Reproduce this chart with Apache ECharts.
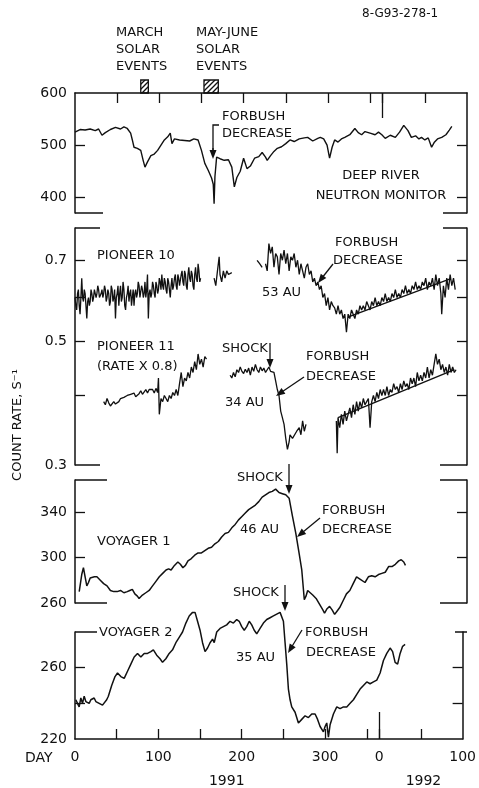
<!DOCTYPE html>
<html><head><meta charset="utf-8">
<script src="https://cdn.jsdelivr.net/npm/echarts@6/dist/echarts.min.js"></script>
<style>html,body{margin:0;padding:0;background:#fff}#c{width:479px;height:788px}</style>
</head><body><div id="c"></div>
<script>
// ---------- DATA (day of 1991; 1992 day N = 365 + N) ----------
const deepRiver = [[0,525],[6,530],[12,529],[18,531],[24,528],[28,531],[32,519],[36,524],[42,530],[48,534],[54,531],[58,535],[62,532],[66,523],[68,510],[70,496],[74,494],[78,490],[81,470],[83,458],[86,468],[90,480],[94,483],[98,490],[102,500],[106,510],[110,516],[113,523],[115,503],[118,512],[124,510],[130,509],[136,508],[141,512],[146,510],[150,490],[154,465],[158,452],[162,437],[164,425],[165,388],[166,440],[168,477],[172,474],[177,471],[182,472],[186,458],[189,420],[192,438],[196,450],[200,475],[204,455],[208,460],[213,475],[218,478],[222,486],[226,477],[228,471],[232,480],[236,488],[240,494],[245,497],[250,503],[255,510],[260,507],[266,512],[272,514],[276,515],[282,508],[288,513],[291,515],[295,512],[299,500],[302,475],[305,496],[308,510],[312,506],[316,512],[320,515],[326,520],[332,532],[336,524],[340,520],[344,526],[350,523],[356,520],[360,525],[364,520],[368,513],[374,519],[380,515],[385,525],[390,538],[395,528],[399,515],[404,518],[408,512],[411,515],[415,510],[419,514],[423,496],[426,505],[430,512],[435,515],[440,520],[444,529],[447,536]];

const pioneer10 = [[0,0.60],[1,0.58],[2,0.57],[3,0.61],[4,0.62],[5,0.58],[6,0.56],[7,0.60],[8,0.65],[9,0.60],[10,0.59],[11,0.62],[12,0.61],[13,0.58],[14,0.55],[15,0.59],[16,0.60],[17,0.58],[18,0.59],[19,0.62],[20,0.61],[21,0.59],[22,0.60],[23,0.62],[24,0.62],[25,0.60],[26,0.61],[27,0.63],[28,0.62],[29,0.60],[30,0.60],[31,0.61],[32,0.62],[33,0.60],[34,0.61],[35,0.63],[36,0.62],[37,0.59],[38,0.60],[39,0.62],[40,0.61],[41,0.58],[42,0.59],[43,0.63],[44,0.62],[45,0.59],[46,0.60],[47,0.62],[48,0.55],[49,0.60],[50,0.61],[51,0.63],[52,0.58],[53,0.61],[54,0.63],[55,0.59],[56,0.60],[57,0.64],[58,0.62],[59,0.58],[60,0.57],[61,0.60],[62,0.61],[63,0.63],[64,0.59],[65,0.61],[66,0.62],[67,0.58],[68,0.60],[69,0.62],[70,0.58],[71,0.61],[72,0.62],[73,0.60],[74,0.61],[75,0.64],[76,0.63],[77,0.60],[78,0.60],[79,0.63],[80,0.62],[81,0.60],[82,0.61],[83,0.64],[84,0.60],[85,0.62],[86,0.66],[87,0.55],[88,0.61],[89,0.62],[90,0.60],[91,0.61],[92,0.64],[93,0.63],[94,0.61],[95,0.60],[96,0.64],[97,0.63],[98,0.61],[99,0.62],[100,0.65],[101,0.64],[102,0.62],[103,0.66],[104,0.63],[105,0.62],[106,0.65],[107,0.64],[108,0.62],[109,0.61],[110,0.65],[111,0.64],[112,0.62],[113,0.60],[114,0.63],[115,0.65],[116,0.62],[117,0.63],[118,0.65],[119,0.66],[120,0.63],[121,0.62],[122,0.66],[123,0.65],[124,0.63],[125,0.63],[126,0.66],[127,0.67],[128,0.64],[129,0.63],[130,0.67],[131,0.66],[132,0.63],[133,0.62],[134,0.66],[135,0.68],[136,0.65],[137,0.64],[138,0.67],[139,0.66],[140,0.63],[141,0.62],[142,0.66],[143,0.68],[144,0.65],[145,0.64],[146,0.69],[147,0.67],[148,0.64],[149,0.65],
 [157,null],
 [165,0.65],[167,0.63],[169,0.67],[171,0.71],[172,0.66],[174,0.64],[176,0.67],[178,0.65],[180,0.67],[182,0.66],[184,0.665],[186,0.665],
 [200,null],
 [216,0.70],[219,0.69],[222,0.68],[224,null],[226,0.69],[228,0.67],[230,0.75],[232,0.72],[234,0.74],[236,0.68],[238,0.72],[240,0.71],[242,0.66],[244,0.72],[246,0.70],[248,0.73],[250,0.69],[252,0.72],[254,0.67],[256,0.71],[258,0.70],[260,0.72],[262,0.68],[264,0.70],[266,0.66],[268,0.69],[270,0.67],[272,0.65],[274,0.68],[276,0.69],[278,0.66],[280,0.67],[282,0.64],[284,0.65],[286,0.63],[288,0.64],[290,0.62],[292,0.63],[294,0.60],[296,0.61],[298,0.58],[300,0.60],[302,0.57],[304,0.59],[306,0.58],[308,0.575],[310,0.56],[312,0.58],[314,0.56],[316,0.57],[318,0.55],[320,0.56],[322,0.52],[324,0.56],[326,0.55],[328,0.57],[330,0.56],[332,0.55],[334,0.57],[336,0.56],[338,0.58],[340,0.57],[342,0.58],[344,0.57],[346,0.59],[348,0.58],[350,0.57],[352,0.59],[354,0.58],[356,0.60],[358,0.58],[360,0.59],[362,0.58],[364,0.60],[366,0.59],[368,0.61],[370,0.59],[372,0.60],[374,0.59],[376,0.61],[378,0.60],[380,0.62],[382,0.60],[384,0.61],[386,0.60],[388,0.62],[390,0.61],[392,0.63],[394,0.61],[396,0.62],[398,0.61],[400,0.63],[402,0.62],[404,0.64],[406,0.62],[408,0.63],[410,0.62],[412,0.64],[414,0.63],[416,0.65],[418,0.62],[420,0.64],[422,0.63],[424,0.65],[426,0.62],[428,0.66],[430,0.63],[432,0.65],[434,0.61],[435,0.56],[437,0.63],[439,0.60],[441,0.65],[443,0.62],[445,0.66],[447,0.63],[449,0.65],[451,0.62]];

const pioneer10Fit = [[326,0.555],[445,0.648]];

const pioneer11 = [[34,0.39],[36,0.385],[38,0.395],[40,0.388],[42,0.383],[44,0.385],[46,0.39],[48,0.386],[50,0.385],[52,0.39],[54,0.395],[56,0.393],[58,0.397],[60,0.394],[62,0.40],[64,0.397],[66,0.402],[68,0.40],[70,0.404],[72,0.398],[74,0.40],[76,0.403],[78,0.408],[80,0.402],[82,0.405],[84,0.41],[86,0.404],[88,0.41],[90,0.408],[92,0.41],[94,0.404],[96,0.412],[98,0.405],[99,0.43],[100,0.37],[102,0.395],[104,0.39],[106,0.40],[108,0.395],[110,0.39],[112,0.40],[114,0.395],[116,0.405],[118,0.40],[120,0.41],[122,0.40],[124,0.42],[126,0.44],[128,0.415],[130,0.43],[132,0.425],[134,0.44],[136,0.43],[138,0.45],[140,0.44],[142,0.46],[144,0.445],[146,0.475],[148,0.455],[150,0.465],[152,0.45],[154,0.47],[156,0.465],
 [170,null],
 [184,0.435],[186,0.43],[188,0.44],[190,0.432],[192,0.445],[194,0.44],[196,0.45],[198,0.442],[200,0.438],[202,0.446],[204,0.44],[206,0.448],[208,0.435],[210,0.45],[212,0.442],[214,0.455],[216,0.445],[218,0.44],[220,0.45],[222,0.443],[224,0.448],[226,0.44],[228,0.445],[230,0.45],[232,0.442],[234,0.445],[236,0.44],[238,0.425],[240,0.41],[242,0.40],[244,0.375],[246,0.365],[248,0.355],[250,0.335],[252,0.32],[254,0.33],[255,0.34],[258,0.335],[260,0.335],[263,0.345],[266,0.35],[268,0.34],[270,0.36],[272,0.345],[274,0.355],
 [290,null],
 [310,0.36],[311,0.315],[312,0.365],[314,0.35],[316,0.37],[318,0.355],[320,0.375],[322,0.36],[324,0.37],[326,0.38],[328,0.365],[330,0.385],[332,0.37],[334,0.39],[336,0.375],[338,0.39],[340,0.38],[342,0.395],[344,0.385],[346,0.39],[348,0.395],[350,0.35],[352,0.39],[354,0.40],[356,0.39],[358,0.405],[360,0.395],[362,0.41],[364,0.40],[366,0.41],[368,0.40],[370,0.415],[372,0.40],[374,0.41],[376,0.405],[378,0.42],[380,0.41],[382,0.415],[384,0.405],[386,0.42],[388,0.41],[390,0.425],[392,0.415],[394,0.42],[396,0.41],[398,0.43],[400,0.42],[402,0.43],[404,0.415],[406,0.44],[408,0.425],[410,0.435],[412,0.425],[414,0.44],[416,0.43],[418,0.45],[420,0.43],[422,0.445],[424,0.435],[426,0.455],[428,0.475],[430,0.455],[432,0.465],[434,0.445],[436,0.455],[438,0.44],[440,0.45],[442,0.435],[444,0.455],[446,0.44],[448,0.45],[450,0.44],[452,0.445]];

const pioneer11Fit = [[312,0.365],[450,0.445]];

const voyager1 = [[5,270],[8,285],[10,291],[12,283],[14,275],[16,278],[18,282],[20,282],[23,283],[26,283],[30,280],[34,277],[38,275],[42,271],[46,270],[50,270],[54,271],[58,269],[62,270],[65,271],[68,272],[71,268],[74,266],[76,264],[80,267],[84,269],[88,271],[92,275],[96,279],[100,283],[104,286],[108,289],[111,290],[114,289],[118,293],[122,296],[125,294],[128,291],[131,293],[134,297],[138,299],[142,302],[146,304],[150,304],[154,306],[158,308],[162,309],[166,312],[170,314],[174,318],[178,321],[182,322],[186,326],[190,329],[194,333],[198,336],[202,339],[206,342],[210,344],[214,346],[218,349],[222,353],[226,355],[230,357],[234,358],[238,360],[240,359],[242,357],[246,356],[250,355],[254,352],[258,336],[262,321],[266,303],[269,289],[272,263],[274,266],[276,271],[279,269],[282,267],[286,264],[290,259],[294,254],[296,251],[299,255],[302,257],[305,254],[308,250],[311,253],[314,256],[318,262],[322,268],[326,271],[330,277],[334,283],[338,281],[344,278],[348,283],[352,284],[356,283],[360,285],[364,286],[368,287],[372,292],[376,292],[380,294],[384,297],[387,298],[390,296],[392,293]];

const voyager2 = [[1,242],[3,240],[5,238],[7,243],[9,240],[11,244],[13,241],[15,242],[17,240],[19,242],[21,241],[23,243],[25,241],[27,242],[29,240],[31,241],[33,239],[35,240],[38,242],[40,244],[44,250],[48,255],[51,257],[55,255],[59,254],[63,258],[67,262],[71,266],[75,268],[79,266],[83,268],[87,268],[91,269],[94,270],[98,267],[102,265],[105,263],[109,265],[113,268],[117,270],[121,274],[125,277],[129,280],[133,285],[137,289],[141,291],[144,291],[147,286],[150,281],[153,274],[156,269],[159,271],[162,274],[165,276],[167,274],[170,280],[174,282],[178,283],[182,284],[186,286],[190,285],[194,287],[197,286],[200,283],[203,281],[206,283],[209,286],[212,284],[215,281],[218,279],[222,282],[226,285],[230,287],[234,288],[238,289],[242,290],[246,291],[248,290],[250,286],[252,274],[254,262],[256,248],[258,242],[260,238],[264,235],[268,229],[272,231],[276,233],[280,232],[284,234],[288,234],[291,231],[294,227],[298,224],[300,227],[302,229],[304,221],[306,228],[310,234],[314,238],[318,237],[322,238],[326,238],[330,240],[334,242],[338,245],[342,248],[346,250],[350,252],[354,251],[358,252],[362,253],[366,257],[370,264],[374,268],[378,271],[381,269],[384,263],[387,262],[390,268],[393,272],[396,273]];

const solarEventDays = [[78,87],[153,170]];

const xTickDays = [50,100,150,200,250,300,350,365,415];
const yearStartDay = [365];
const xLabelDays = [0,100,200,300,365,465];
const yearLabelDays = [182,418];
const yearNames = {182:'1991',418:'1992'};

const yTicks = [[400,500],[0.4,0.5,0.6,0.7],[300,340],[240,260]];
const yLabels = [[400,500,600],[0.3,0.5,0.7],[260,300,340],[220,260]];
const yRanges = [[370,600],[0.3,0.8],[260,368],[220,280]];

// ---------- LAYOUT ----------
const INK = '#111';
const FONT = 'DejaVu Sans';
const LEFT = 75, RIGHT = 12, X_MAX = 465;
const GRIDS = [{top:93,height:120},{top:228,height:237},{top:480,height:123},{top:632,height:108}];

const chart = echarts.init(document.getElementById('c'), null, {renderer:'canvas'});

const grid = GRIDS.map(g => ({left:LEFT, right:RIGHT, top:g.top, height:g.height}));

const lineStyle = {color:INK, width:1.5};
const tickStyle = {color:INK, width:1.3};
const labelStyle = {color:INK, fontFamily:FONT, fontSize:14};

function xBase(gi){ return {type:'value', gridIndex:gi, min:0, max:X_MAX, splitLine:{show:false}}; }

const xAxis = [
  Object.assign(xBase(0), {position:'top', axisLine:{show:true, onZero:false, lineStyle},
    axisTick:{show:true, inside:true, length:10, lineStyle:tickStyle, customValues:xTickDays},
    axisLabel:{show:false}}),
  Object.assign(xBase(0), {position:'top', axisLine:{show:false},
    axisTick:{show:true, inside:true, length:25, lineStyle:tickStyle, customValues:yearStartDay},
    axisLabel:{show:false}}),
  Object.assign(xBase(1), {show:false}),
  Object.assign(xBase(2), {show:false}),
  Object.assign(xBase(3), {position:'bottom', axisLine:{show:true, onZero:false, lineStyle},
    axisTick:{show:true, inside:true, length:10, lineStyle:tickStyle, customValues:xTickDays},
    axisLabel:Object.assign({show:true, margin:11, customValues:xLabelDays,
      formatter: v => String(v >= 365 ? v - 365 : v)}, labelStyle)}),
  Object.assign(xBase(3), {position:'bottom', axisLine:{show:false},
    axisTick:{show:true, inside:true, length:27, lineStyle:tickStyle, customValues:yearStartDay},
    axisLabel:{show:false}}),
  Object.assign(xBase(3), {position:'bottom', axisLine:{show:false}, axisTick:{show:false},
    axisLabel:Object.assign({show:true, margin:35, customValues:yearLabelDays,
      formatter: v => yearNames[v] || ''}, labelStyle)})
];

const yAxis = [];
GRIDS.forEach((g, gi) => {
  const isLog = gi === 1;
  const base = {type: isLog ? 'log' : 'value', gridIndex:gi, min:yRanges[gi][0], max:yRanges[gi][1],
    splitLine:{show:false}, axisLine:{show:true, onZero:false, lineStyle}};
  yAxis.push(Object.assign({}, base, {position:'left',
    axisTick:{show:true, inside:true, length:10, lineStyle:tickStyle, customValues:yTicks[gi]},
    axisLabel:Object.assign({show:true, margin:8, customValues:yLabels[gi],
      formatter: v => isLog ? Number(v).toFixed(1) : String(Math.round(v))}, labelStyle)}));
  yAxis.push(Object.assign({}, base, {position:'right',
    axisTick:{show:true, inside:true, length:10, lineStyle:tickStyle, customValues:yTicks[gi]},
    axisLabel:{show:false}}));
});

function lineSeries(data, xi, yi, w){
  return {type:'line', data, xAxisIndex:xi, yAxisIndex:yi, symbol:'none', connectNulls:false,
    clip:false, silent:true, animation:false,
    lineStyle:{color:INK, width:w || 1.3}};
}

const series = [
  lineSeries(deepRiver, 0, 0, 1.4),
  lineSeries(pioneer10, 2, 2, 1.3),
  lineSeries(pioneer10Fit, 2, 2, 1.4),
  lineSeries(pioneer11, 2, 2, 1.3),
  lineSeries(pioneer11Fit, 2, 2, 1.4),
  lineSeries(voyager1, 3, 4, 1.5),
  lineSeries(voyager2, 4, 6, 1.5)
];

chart.setOption({animation:false, backgroundColor:'#fff', grid, xAxis, yAxis, series});

// ---------- ANNOTATIONS ----------
const els = [];
function txt(text, x, y, opt){
  els.push({type:'text', x, y, silent:true, z:10, style:Object.assign({text, fill:INK, fontFamily:FONT,
    fontSize:13, align:'left', verticalAlign:'middle'}, opt || {})});
}
function seg(x1,y1,x2,y2,w){
  els.push({type:'line', silent:true, shape:{x1,y1,x2,y2}, style:{stroke:INK, lineWidth:w||1.5}});
}
function arrow(x1,y1,x2,y2){
  const dx=x2-x1, dy=y2-y1, L=Math.hypot(dx,dy), ux=dx/L, uy=dy/L, hl=9, hw=3.5;
  const bx=x2-ux*hl, by=y2-uy*hl;
  seg(x1,y1,bx+ux*2,by+uy*2,1.3);
  els.push({type:'polygon', silent:true, shape:{points:[[x2,y2],[bx-uy*hw,by+ux*hw],[bx+uy*hw,by-ux*hw]]}, style:{fill:INK}});
}

// panel frame brackets (partial top/bottom borders)
const xR = 479 - RIGHT;
const brackets = [
  {y:GRIDS[0].top+GRIDS[0].height, l:28, r:24},
  {y:GRIDS[1].top, l:25, r:24},
  {y:GRIDS[1].top+GRIDS[1].height, l:25, r:27},
  {y:GRIDS[2].top, l:32, r:27},
  {y:GRIDS[2].top+GRIDS[2].height, l:32, r:27},
  {y:GRIDS[3].top, l:22, r:12}
];
brackets.forEach(b => { seg(LEFT, b.y, LEFT+b.l, b.y); seg(xR-b.r, b.y, xR, b.y); });

// header texts
txt('8-G93-278-1', 362, 14, {fontSize:12});
['MARCH','SOLAR','EVENTS'].forEach((t,i) => txt(t, 116, [33,50,67][i]));
['MAY-JUNE','SOLAR','EVENTS'].forEach((t,i) => txt(t, 196, [33,50,67][i]));

// hatched solar event boxes
const hc = document.createElement('canvas'); hc.width = 5; hc.height = 5;
const g2 = hc.getContext('2d'); g2.strokeStyle = INK; g2.lineWidth = 1.3;
g2.beginPath(); g2.moveTo(0,5); g2.lineTo(5,0); g2.moveTo(-1,1); g2.lineTo(1,-1); g2.moveTo(4,6); g2.lineTo(6,4); g2.stroke();
solarEventDays.forEach(([a,b]) => {
  const x1 = chart.convertToPixel({xAxisIndex:0}, a), x2 = chart.convertToPixel({xAxisIndex:0}, b);
  els.push({type:'rect', silent:true, shape:{x:x1, y:GRIDS[0].top-13, width:x2-x1, height:13},
    style:{fill:{image:hc, repeat:'repeat'}, stroke:INK, lineWidth:1.3}});
});

// Deep River
txt('FORBUSH', 222, 117); txt('DECREASE', 222, 134);
els.push({type:'polyline', silent:true, shape:{points:[[219,125],[213,125],[213,151]]}, style:{stroke:INK, lineWidth:1.3, fill:null}});
arrow(213,148,213,159);
txt('DEEP RIVER', 381, 176, {align:'center'});
txt('NEUTRON MONITOR', 381, 196, {align:'center'});

// Pioneer
txt('PIONEER 10', 97, 256);
txt('FORBUSH', 335, 243); txt('DECREASE', 333, 261);
arrow(333,264,318,283);
txt('53 AU', 262, 293);
txt('PIONEER 11', 97, 347);
txt('(RATE X 0.8)', 97, 367);
txt('SHOCK', 222, 349);
arrow(270,343,270,368);
txt('FORBUSH', 306, 357); txt('DECREASE', 306, 377);
arrow(304,377,276,396);
txt('34 AU', 225, 403);

// Voyager 1
txt('SHOCK', 237, 478);
arrow(289,464,289,494);
txt('FORBUSH', 322, 511); txt('DECREASE', 322, 530);
arrow(320,518,297,537);
txt('46 AU', 240, 530);
txt('VOYAGER 1', 97, 542);

// Voyager 2
txt('SHOCK', 233, 593);
arrow(285,585,285,611);
txt('FORBUSH', 305, 633); txt('DECREASE', 306, 653);
arrow(302,630,288,653);
txt('35 AU', 236, 658);
txt('VOYAGER 2', 99, 633);

// axis titles
txt('DAY', 25, 758, {fontSize:14});
els.push({type:'text', x:18, y:425, rotation:Math.PI/2, silent:true,
  style:{text:'COUNT RATE, S\u207B\u00B9', fill:INK, fontFamily:FONT, fontSize:13, align:'center', verticalAlign:'middle'}});

chart.setOption({graphic:{elements:els}});
</script>
</body></html>
